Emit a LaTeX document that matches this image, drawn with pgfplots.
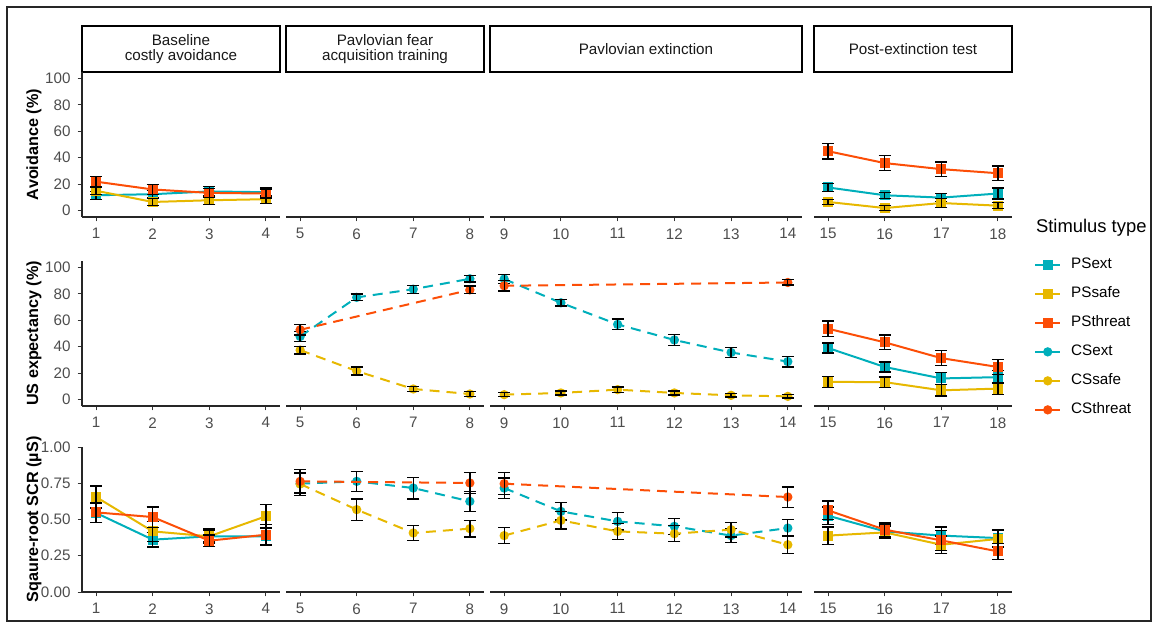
\documentclass[border=0pt]{standalone}
\usepackage{fontspec}
\setmainfont{Liberation Sans}
\usepackage{pgfplots}
\pgfplotsset{compat=1.18}
\definecolor{cext}{HTML}{00AFBB}
\definecolor{csafe}{HTML}{E7B800}
\definecolor{cthreat}{HTML}{FC4E07}
\definecolor{tickgray}{HTML}{4D4D4D}
\pgfplotsset{
  panel/.style={
    scale only axis, width=#1, height=72.5pt, anchor=south west,
    clip=false, clip marker paths=true,
    axis x line*=bottom,
    tick align=outside,
    major tick length=2.2pt,
    every tick/.style={black!80, line width=0.5pt},
    axis line style={line width=0.55pt, black!85, -},
    tick label style={font=\fontsize{7.6}{9}\selectfont, text=tickgray},
    /pgf/number format/assume math mode=true,
  },
  pct/.style={ymin=-5, ymax=105, ytick={0,20,40,60,80,100}},
  scr/.style={ymin=0, ymax=1, ytick={0,0.25,0.5,0.75,1}, yticklabels={0.00,0.25,0.50,0.75,1.00}},
  c1/.style={panel=99pt, xmin=0.75, xmax=4.25, xtick={1,2,3,4}, axis y line*=left},
  c2/.style={panel=99pt, xmin=4.75, xmax=8.25, xtick={5,6,7,8}, axis y line=none},
  c3/.style={panel=156pt, xmin=8.75, xmax=14.25, xtick={9,10,11,12,13,14}, axis y line=none},
  c4/.style={panel=99pt, xmin=14.75, xmax=18.25, xtick={15,16,17,18}, axis y line=none},
  psst/.style={color=#1, line width=1pt, mark=square*, mark size=2pt, mark options={solid}},
  csst/.style={color=#1, line width=1pt, dash pattern=on 5pt off 3.5pt, mark=*, mark size=1.8pt, mark options={solid}},
  errst/.style={black, only marks, mark=text, text mark={}, forget plot,
    error bars/.cd, y dir=both, y explicit,
    error bar style={draw=black, line width=0.65pt, solid},
    error mark options={draw=black, rotate=90, mark size=3pt, line width=0.65pt}},
}
\newcommand{\psline}[2]{%
  \addplot[psst=#1] table[x=x,y=y,row sep=\\]{#2};
  \addplot[errst] table[x=x,y=y,y error=e,row sep=\\]{#2};
}
\newcommand{\csline}[2]{%
  \addplot[csst=#1] table[x=x,y=y,row sep=\\]{#2};
  \addplot[errst] table[x=x,y=y,y error=e,row sep=\\]{#2};
}
\begin{document}
\begin{tikzpicture}
\path (0,0) rectangle (579pt,314pt);
\draw[black!85, line width=0.6pt] (3.5pt,3.5pt) rectangle (575.5pt,310.5pt);

% strips
\begin{scope}[every node/.style={font=\fontsize{7.6}{7.9}\selectfont, align=center, text=black!90}]
\draw[line width=0.55pt, fill=white] (41pt,278pt) rectangle (140pt,301pt);
\node at (90.5pt,289.5pt) {Baseline\\costly avoidance};
\draw[line width=0.55pt, fill=white] (143pt,278pt) rectangle (242pt,301pt);
\node at (192.5pt,289.5pt) {Pavlovian fear\\acquisition training};
\draw[line width=0.55pt, fill=white] (245pt,278pt) rectangle (401pt,301pt);
\node at (323pt,289.5pt) {Pavlovian extinction};
\draw[line width=0.55pt, fill=white] (407pt,278pt) rectangle (506pt,301pt);
\node at (456.5pt,289.5pt) {Post-extinction test};
\end{scope}

% y labels
\begin{scope}[every node/.style={font=\bfseries\fontsize{8.1}{10}\selectfont, rotate=90}]
\node at (17pt,241.75pt) {Avoidance (\%)};
\node at (17pt,147.25pt) {US expectancy (\%)};
\node at (17pt,54.25pt) {Sqaure-root SCR (µS)};
\end{scope}

% ---------- Row 1: Avoidance ----------
\begin{axis}[c1, pct, at={(41pt,205.5pt)}]
\psline{cext}{x y e\\ 1 11.5 3\\ 2 12.3 3\\ 3 14.4 3.5\\ 4 13.8 3.5\\}
\psline{csafe}{x y e\\ 1 14.9 3\\ 2 6.4 2.5\\ 3 7.7 3\\ 4 8.5 3\\}
\psline{cthreat}{x y e\\ 1 21.8 4\\ 2 15.9 3.8\\ 3 13.3 3.5\\ 4 12.8 3.5\\}
\end{axis}
\begin{axis}[c2, pct, at={(143pt,205.5pt)}]
\end{axis}
\begin{axis}[c3, pct, at={(245pt,205.5pt)}]
\end{axis}
\begin{axis}[c4, pct, at={(407pt,205.5pt)}]
\psline{cext}{x y e\\ 15 17.4 3.2\\ 16 11.5 2.3\\ 17 9.7 3.2\\ 18 12.8 4.2\\}
\psline{csafe}{x y e\\ 15 6.4 2\\ 16 1.8 1.7\\ 17 5.6 3.6\\ 18 3.6 2.2\\}
\psline{cthreat}{x y e\\ 15 44.9 5.9\\ 16 35.9 5.8\\ 17 31.3 5.5\\ 18 28.2 5.6\\}
\end{axis}

% ---------- Row 2: US expectancy ----------
\begin{axis}[c1, pct, at={(41pt,111pt)}]
\end{axis}
\begin{axis}[c2, pct, at={(143pt,111pt)}]
\csline{cext}{x y e\\ 5 47.7 4\\ 6 77.4 2.5\\ 7 83.6 3\\ 8 91.5 2.5\\}
\csline{csafe}{x y e\\ 5 37.4 3\\ 6 21.5 3\\ 7 7.9 2\\ 8 4.1 2\\}
\csline{cthreat}{x y e\\ 5 52.8 4\\ 8 83.1 3\\}
\end{axis}
\begin{axis}[c3, pct, at={(245pt,111pt)}]
\csline{cext}{x y e\\ 9 91.3 3.5\\ 10 73.3 2.5\\ 11 56.9 4\\ 12 45.1 4\\ 13 35.6 4\\ 14 28.7 4\\}
\csline{csafe}{x y e\\ 9 3.6 1.5\\ 10 4.9 1.5\\ 11 7.4 2\\ 12 4.9 1.5\\ 13 3.1 1.2\\ 14 2.3 1.2\\}
\csline{cthreat}{x y e\\ 9 86.2 4\\ 14 88.7 2\\}
\end{axis}
\begin{axis}[c4, pct, at={(407pt,111pt)},
  legend style={at={(1.08,1.052)}, anchor=north west, draw=none, fill=none,
    font=\fontsize{7.6}{9}\selectfont, row sep=7.5pt, column sep=5pt,
    nodes={inner sep=0pt, text height=5.5pt, text depth=1.5pt}},
  legend cell align=left,
  legend image code/.code={\draw[mark repeat=2,mark phase=2,#1] plot coordinates {(0pt,0pt) (6.25pt,0pt) (12.5pt,0pt)};}]
\psline{cext}{x y e\\ 15 39 3.8\\ 16 24.6 3.7\\ 17 15.9 4.5\\ 18 16.9 5\\}
\psline{csafe}{x y e\\ 15 13.3 4\\ 16 13.1 4\\ 17 6.9 4.4\\ 18 8.2 4.5\\}
\psline{cthreat}{x y e\\ 15 53.6 5.9\\ 16 43.3 5.5\\ 17 31.3 5.8\\ 18 24.6 5.8\\}
\addlegendimage{csst=cext}
\addlegendimage{csst=csafe}
\addlegendimage{csst=cthreat}
\legend{PSext,PSsafe,PSthreat,CSext,CSsafe,CSthreat}
\end{axis}

% ---------- Row 3: SCR ----------
\begin{axis}[c1, scr, at={(41pt,18pt)}]
\psline{cext}{x y e\\ 1 0.545 0.065\\ 2 0.361 0.05\\ 3 0.384 0.04\\ 4 0.384 0.06\\}
\psline{csafe}{x y e\\ 1 0.655 0.075\\ 2 0.418 0.07\\ 3 0.384 0.05\\ 4 0.522 0.08\\}
\psline{cthreat}{x y e\\ 1 0.549 0.07\\ 2 0.517 0.07\\ 3 0.354 0.04\\ 4 0.395 0.07\\}
\end{axis}
\begin{axis}[c2, scr, at={(143pt,18pt)}]
\csline{cext}{x y e\\ 5 0.747 0.07\\ 6 0.763 0.07\\ 7 0.717 0.075\\ 8 0.625 0.07\\}
\csline{csafe}{x y e\\ 5 0.745 0.08\\ 6 0.568 0.073\\ 7 0.407 0.053\\ 8 0.437 0.057\\}
\csline{cthreat}{x y e\\ 5 0.763 0.08\\ 8 0.752 0.073\\}
\end{axis}
\begin{axis}[c3, scr, at={(245pt,18pt)}]
\csline{cext}{x y e\\ 9 0.717 0.07\\ 10 0.556 0.06\\ 11 0.487 0.06\\ 12 0.453 0.055\\ 13 0.389 0.05\\ 14 0.441 0.06\\}
\csline{csafe}{x y e\\ 9 0.389 0.054\\ 10 0.494 0.06\\ 11 0.418 0.055\\ 12 0.402 0.055\\ 13 0.430 0.05\\ 14 0.326 0.06\\}
\csline{cthreat}{x y e\\ 9 0.747 0.075\\ 14 0.655 0.07\\}
\end{axis}
\begin{axis}[c4, scr, at={(407pt,18pt)}]
\psline{cext}{x y e\\ 15 0.526 0.06\\ 16 0.418 0.045\\ 17 0.389 0.06\\ 18 0.372 0.06\\}
\psline{csafe}{x y e\\ 15 0.389 0.06\\ 16 0.411 0.04\\ 17 0.326 0.06\\ 18 0.366 0.06\\}
\psline{cthreat}{x y e\\ 15 0.563 0.065\\ 16 0.43 0.045\\ 17 0.356 0.07\\ 18 0.28 0.055\\}
\end{axis}

\node[anchor=west, font=\fontsize{9.2}{11}\selectfont] at (514.5pt,200pt) {Stimulus type};
\end{tikzpicture}
\end{document}
